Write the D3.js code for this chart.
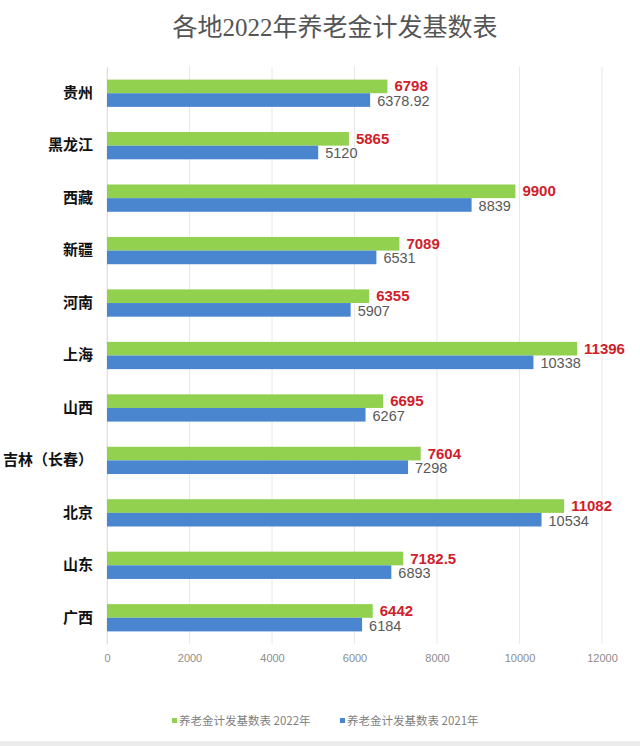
<!DOCTYPE html>
<html>
<head>
<meta charset="utf-8">
<script src="https://cdn.jsdelivr.net/npm/d3@7"></script>
<style>
  body { margin: 0; background: #fff; }
  svg { display: block; }
</style>
</head>
<body>
<div id="chart"></div>
<script>
// data
const regions = ["贵州", "黑龙江", "西藏", "新疆", "河南", "上海", "山西", "吉林（长春）", "北京", "山东", "广西"];
const values2022 = [6798, 5865, 9900, 7089, 6355, 11396, 6695, 7604, 11082, 7182.5, 6442];
const values2021 = [6378.92, 5120, 8839, 6531, 5907, 10338, 6267, 7298, 10534, 6893, 6184];
const xTicks = [0, 2000, 4000, 6000, 8000, 10000, 12000];
const seriesNames = ["养老金计发基数表 2022年", "养老金计发基数表 2021年"];

const w = 640;
const h = 746;
const green = "#92d050";
const blue = "#4a86d0";

const svg = d3.select("#chart")
  .append("svg")
  .attr("width", w)
  .attr("height", h);

const x = d3.scaleLinear().domain([0, 12000]).range([107, 602]);
const y = d3.scaleBand().domain(regions).range([67, 644]).paddingInner(0.48).paddingOuter(0.24);
const sub = d3.scaleBand().domain(["2022", "2021"]).range([0, y.bandwidth()]);

// title
svg.append("text")
  .attr("x", 335)
  .attr("y", 36)
  .attr("text-anchor", "middle")
  .style("font-family", "'Liberation Serif', 'Noto Sans CJK SC', serif")
  .style("font-size", "25px")
  .attr("fill", "#555")
  .text("各地2022年养老金计发基数表");

// grid
svg.append("g")
  .selectAll("line")
  .data(xTicks)
  .enter()
  .append("line")
  .attr("x1", d => x(d))
  .attr("x2", d => x(d))
  .attr("y1", 67)
  .attr("y2", 644)
  .attr("stroke", "#e8e8e8")
  .attr("stroke-width", 1);

// x axis labels
const xAxis = svg.append("g")
  .attr("transform", "translate(0,644)")
  .call(d3.axisBottom(x).tickValues(xTicks).tickSize(0).tickPadding(10).tickFormat(d => d));
xAxis.select(".domain").remove();
xAxis.selectAll("text")
  .style("font-family", "'Liberation Sans', Arial, sans-serif")
  .style("font-size", "11px")
  .attr("fill", "#8c8c8c");

// y axis labels
const yAxis = svg.append("g")
  .attr("transform", "translate(107,0)")
  .call(d3.axisLeft(y).tickSize(0).tickPadding(14));
yAxis.select(".domain")
  .attr("stroke", "#e0e0e0");
yAxis.selectAll("text")
  .style("font-family", "'Noto Sans CJK SC', sans-serif")
  .style("font-size", "15px")
  .style("font-weight", "bold")
  .attr("fill", "#111");

const groups = svg.append("g")
  .selectAll("g")
  .data(regions)
  .enter()
  .append("g")
  .attr("transform", d => `translate(0,${y(d)})`);

// 2022 bars
groups.append("rect")
  .attr("x", x(0))
  .attr("y", sub("2022"))
  .attr("width", (d, i) => x(values2022[i]) - x(0))
  .attr("height", sub.bandwidth())
  .attr("fill", green);

// 2021 bars
groups.append("rect")
  .attr("x", x(0))
  .attr("y", sub("2021"))
  .attr("width", (d, i) => x(values2021[i]) - x(0))
  .attr("height", sub.bandwidth())
  .attr("fill", blue);

// value labels
groups.append("text")
  .attr("x", (d, i) => x(values2022[i]) + 7)
  .attr("y", sub("2022") + sub.bandwidth() / 2 + 5)
  .style("font-family", "'Liberation Sans', Arial, sans-serif")
  .style("font-size", "15px")
  .style("font-weight", "bold")
  .attr("fill", "#d0202a")
  .text((d, i) => values2022[i]);

groups.append("text")
  .attr("x", (d, i) => x(values2021[i]) + 7)
  .attr("y", sub("2021") + sub.bandwidth() / 2 + 6)
  .style("font-family", "'Liberation Sans', Arial, sans-serif")
  .style("font-size", "14.5px")
  .attr("fill", "#595959")
  .text((d, i) => values2021[i]);

// legend
const legend = svg.append("g");
const legendX = [172, 340];
const legendColors = [green, blue];
seriesNames.forEach((name, i) => {
  legend.append("rect")
    .attr("x", legendX[i])
    .attr("y", 718)
    .attr("width", 5)
    .attr("height", 5)
    .attr("fill", legendColors[i]);
  legend.append("text")
    .attr("x", legendX[i] + 7)
    .attr("y", 725)
    .style("font-family", "'Noto Sans CJK SC', sans-serif")
    .style("font-size", "11.5px")
    .attr("fill", "#7f7f7f")
    .text(name);
});

// bottom border
svg.append("rect")
  .attr("x", 0)
  .attr("y", 741)
  .attr("width", w)
  .attr("height", 5)
  .attr("fill", "#ececec");
</script>
</body>
</html>
